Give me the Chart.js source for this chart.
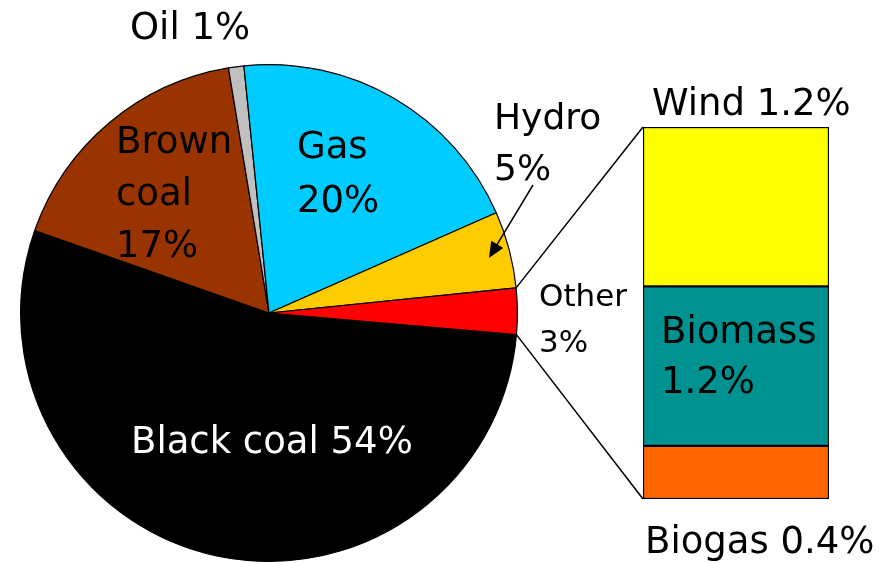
<!DOCTYPE html>
<html>
<head>
<meta charset="utf-8">
<script src="https://cdn.jsdelivr.net/npm/chart.js"></script>
<style>
  html, body { margin: 0; padding: 0; background: #fff; }
  #wrap { position: relative; width: 892px; height: 563px; }
  #wrap canvas { position: absolute; left: 0; top: 0; }
</style>
</head>
<body>
<div id="wrap">
  <canvas id="pie-chart" width="892" height="563"></canvas>
  <canvas id="bar-chart" width="892" height="563"></canvas>
</div>
<script>
// Pie data (clockwise from the "Other" slice's lower edge)
const pieLabels = ['Black coal', 'Brown coal', 'Oil', 'Gas', 'Hydro', 'Other'];
const pieValues = [54, 17, 1, 20, 5, 3];
const pieColors = ['#000000', '#993300', '#C0C0C0', '#00CCFF', '#FFCC00', '#FF0000'];

// Breakdown of "Other" (bottom to top)
const otherLabels = ['Biogas', 'Biomass', 'Wind'];
const otherValues = [0.4, 1.2, 1.2];
const otherColors = ['#FF6600', '#009290', '#FFFF00'];

const FONT = '"DejaVu Sans", Verdana, sans-serif';

let charts = {};

function initializePie() {
    const ctx = document.getElementById('pie-chart').getContext('2d');
    charts.pie = new Chart(ctx, {
        type: 'pie',
        data: {
            labels: pieLabels,
            datasets: [{
                data: pieValues,
                backgroundColor: pieColors,
                borderColor: '#000000',
                borderWidth: 1.2
            }]
        },
        options: {
            responsive: false,
            animation: false,
            rotation: 95,
            layout: { padding: { left: 20, right: 374, top: 64, bottom: 1 } },
            plugins: { legend: { display: false }, tooltip: { enabled: false } }
        }
    });
}

function text(ctx, str, x, y, size, color) {
    ctx.font = size + 'px ' + FONT;
    ctx.fillStyle = color || '#000';
    ctx.textAlign = 'left';
    ctx.textBaseline = 'alphabetic';
    ctx.fillText(str, x, y);
}

const overlayPlugin = {
    id: 'overlay',
    afterDraw(chart) {
        const ctx = chart.ctx;
        const arc = charts.pie.getDatasetMeta(0).data[5];
        const p = arc.getProps(['x', 'y', 'startAngle', 'endAngle', 'outerRadius'], true);
        const bars = chart.getDatasetMeta(0).data;
        const top = chart.getDatasetMeta(otherValues.length - 1).data[0].getProps(['x', 'y', 'width', 'base'], true);
        const bottom = bars[0].getProps(['x', 'y', 'width', 'base'], true);
        const left = top.x - top.width / 2;

        ctx.save();
        // connector lines from the "Other" slice to the bar
        ctx.strokeStyle = '#000';
        ctx.lineWidth = 1.5;
        ctx.beginPath();
        ctx.moveTo(p.x + p.outerRadius * Math.cos(p.startAngle), p.y + p.outerRadius * Math.sin(p.startAngle));
        ctx.lineTo(left, top.y);
        ctx.moveTo(p.x + p.outerRadius * Math.cos(p.endAngle), p.y + p.outerRadius * Math.sin(p.endAngle));
        ctx.lineTo(left, bottom.base);
        ctx.stroke();

        // arrow from the Hydro label into its slice
        const ax = 533, ay = 185, bx = 489, by = 258;
        const ang = Math.atan2(by - ay, bx - ax);
        ctx.lineWidth = 1.5;
        ctx.beginPath();
        ctx.moveTo(ax, ay);
        ctx.lineTo(bx - 10 * Math.cos(ang), by - 10 * Math.sin(ang));
        ctx.stroke();
        ctx.fillStyle = '#000';
        ctx.beginPath();
        ctx.moveTo(bx, by);
        ctx.lineTo(bx - 16 * Math.cos(ang) + 7 * Math.sin(ang), by - 16 * Math.sin(ang) - 7 * Math.cos(ang));
        ctx.lineTo(bx - 16 * Math.cos(ang) - 7 * Math.sin(ang), by - 16 * Math.sin(ang) + 7 * Math.cos(ang));
        ctx.closePath();
        ctx.fill();

        // labels
        text(ctx, 'Oil 1%', 130, 39, 37);
        text(ctx, 'Brown', 116, 153, 37);
        text(ctx, 'coal', 116, 205, 37);
        text(ctx, '17%', 116, 257, 37);
        text(ctx, 'Gas', 297, 158, 37);
        text(ctx, '20%', 297, 212, 37);
        text(ctx, 'Hydro', 494, 129, 36);
        text(ctx, '5%', 494, 180, 36);
        text(ctx, 'Other', 539, 306, 31);
        text(ctx, '3%', 539, 352, 31);
        text(ctx, 'Black coal 54%', 131, 453, 37, '#fff');
        text(ctx, 'Wind 1.2%', 652, 115, 37);
        text(ctx, 'Biomass', 661, 343, 37);
        text(ctx, '1.2%', 661, 393, 37);
        text(ctx, 'Biogas 0.4%', 645, 553, 37);
        ctx.restore();
    }
};

function initializeBar() {
    const ctx = document.getElementById('bar-chart').getContext('2d');
    charts.bar = new Chart(ctx, {
        type: 'bar',
        data: {
            labels: ['Other'],
            datasets: otherLabels.map((label, i) => ({
                label: label,
                data: [otherValues[i]],
                backgroundColor: otherColors[i],
                borderColor: '#000000',
                borderWidth: 1.5,
                borderSkipped: false,
                barPercentage: 1,
                categoryPercentage: 1
            }))
        },
        options: {
            responsive: false,
            animation: false,
            layout: { padding: { left: 643, right: 63, top: 127, bottom: 64 } },
            scales: {
                x: { stacked: true, display: false },
                y: { stacked: true, display: false, min: 0, max: 2.8 }
            },
            plugins: { legend: { display: false }, tooltip: { enabled: false } }
        },
        plugins: [overlayPlugin]
    });
}

initializePie();
initializeBar();
</script>
</body>
</html>
